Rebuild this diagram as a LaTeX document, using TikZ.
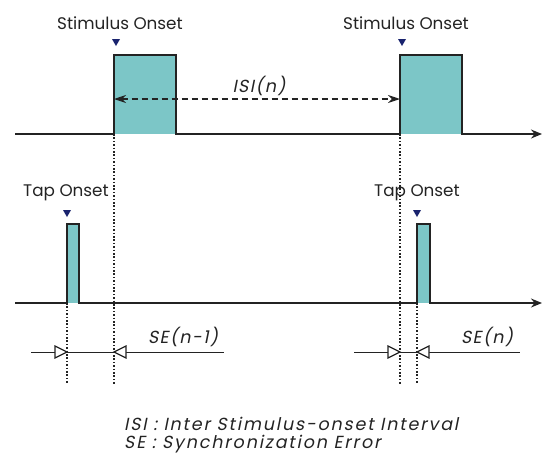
\documentclass[tikz,border=0pt]{standalone}
\usepackage{fontspec}
\setmainfont{Poppins}
\newfontfamily\slantfont[FakeSlant=0.2, LetterSpace=8]{Poppins}
\newfontfamily\legendfont[FakeSlant=0.2, LetterSpace=10.5]{Poppins}
\usetikzlibrary{arrows.meta}

\definecolor{pulse}{RGB}{124,198,199}
\definecolor{ink}{RGB}{35,35,35}
\definecolor{marker}{RGB}{25,35,110}

\tikzset{
  timeaxis/.style={draw=ink, line width=1.5pt, line join=miter, -{Stealth[length=11pt,width=9pt]}},
  guide/.style={draw=ink, line width=2pt, dash pattern=on 1.6pt off 1.8pt},
  isiarrow/.style={draw=ink, line width=1.3pt, dash pattern=on 6pt off 4pt,
    {Stealth[length=12pt,width=8pt]}-{Stealth[length=12pt,width=8pt]}},
  seline/.style={draw=ink, line width=0.9pt},
  opentip/.style={draw=ink, line width=1.2pt, fill=white, line join=miter},
  onsetmark/.style={fill=marker},
  onsetlbl/.style={font=\fontsize{16.8}{20}\selectfont, anchor=base, text=ink, inner sep=0pt},
  itlbl/.style={font=\fontsize{17.5}{20}\selectfont\slantfont, anchor=base, text=ink, inner sep=0pt},
  legendlbl/.style={font=\fontsize{17.5}{20}\selectfont\legendfont, anchor=base west, text=ink, inner sep=0pt},
}

\begin{document}
\begin{tikzpicture}[x=1pt,y=-1pt]
\useasboundingbox (0,0) rectangle (544,467);

% ---- stimulus channel ----
\coordinate (s0)   at (15,134);
\coordinate (s1)   at (114,134);
\coordinate (s1e)  at (176,134);
\coordinate (s2)   at (400,134);
\coordinate (s2e)  at (462,134);
\coordinate (send) at (542,134);
\fill[pulse] (114,55) rectangle (176,134);
\fill[pulse] (400,55) rectangle (462,134);
\draw[timeaxis] (s0) -- (s1) -- (114,55) -- (176,55) -- (s1e) -- (s2)
  -- (400,55) -- (462,55) -- (s2e) -- (send);

% ---- tap channel ----
\coordinate (t0)   at (15,303);
\coordinate (t1)   at (67,303);
\coordinate (t1e)  at (79,303);
\coordinate (t2)   at (417,303);
\coordinate (t2e)  at (430,303);
\coordinate (tend) at (542,303);
\fill[pulse] (67,224) rectangle (79,303);
\fill[pulse] (417,224) rectangle (430,303);
\draw[timeaxis] (t0) -- (t1) -- (67,224) -- (79,224) -- (t1e) -- (t2)
  -- (417,224) -- (430,224) -- (t2e) -- (tend);

% ---- onset markers ----
\foreach \x/\y in {116/39, 402/39, 67/210, 417/210}
  \fill[onsetmark] (\x-4,\y) -- (\x+4,\y) -- (\x,\y+7) -- cycle;

% ---- labels ----
\node[onsetlbl] (lbS1) at (120,29) {Stimulus Onset};
\node[onsetlbl] (lbS2) at (406,29) {Stimulus Onset};
\node[onsetlbl] (lbT1) at (66,196) {Tap Onset};
\node[onsetlbl] (lbT2) at (417,196) {Tap Onset};

% ---- inter stimulus-onset interval ----
\coordinate (isiL) at (114,99);
\coordinate (isiR) at (400,99);
\draw[isiarrow] (isiL) -- (isiR);
\node[itlbl] (lbISI) at (259,92) {ISI(n)};

% ---- synchronization errors ----
\coordinate (se1a) at (31,352);
\coordinate (se1b) at (224,352);
\coordinate (se2a) at (354,352);
\coordinate (se2b) at (520,352);
\draw[seline] (se1a) -- (se1b);
\draw[seline] (se2a) -- (se2b);
\draw[opentip] (67,352) -- (55,346) -- (55,358) -- cycle;
\draw[opentip] (114,352) -- (126,346) -- (126,358) -- cycle;
\draw[opentip] (400,352) -- (388,346) -- (388,358) -- cycle;
\draw[opentip] (417,352) -- (429,346) -- (429,358) -- cycle;
\node[itlbl] (lbSE1) at (183,343) {SE(n-1)};
\node[itlbl] (lbSE2) at (487,343) {SE(n)};

% ---- vertical guides ----
\draw[guide] (s1) -- (s1 |- 0,384);
\draw[guide] (s2) -- (s2 |- 0,384);
\draw[guide] (t1) -- (t1 |- 0,384);
\draw[guide] (t2) -- (t2 |- 0,384);

% ---- legend ----
\node[legendlbl] (lgISI) at (124,430) {ISI : Inter Stimulus-onset Interval};
\node[legendlbl] (lgSE)  at (124,448) {SE : Synchronization Error};
\end{tikzpicture}
\end{document}
